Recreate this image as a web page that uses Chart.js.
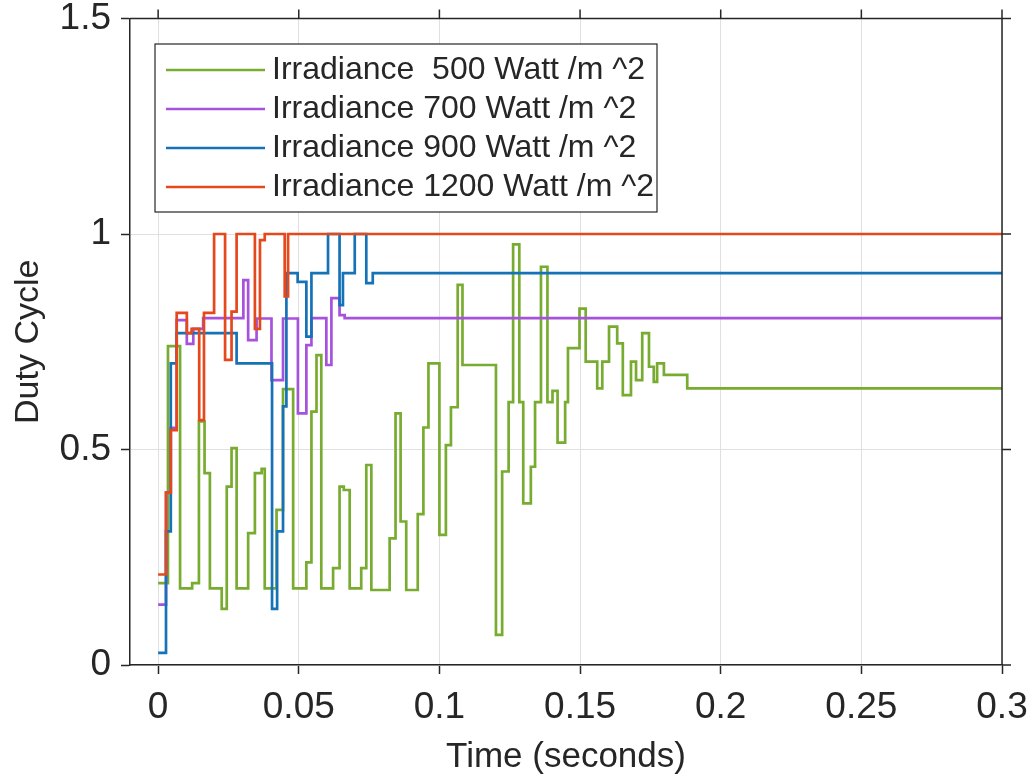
<!DOCTYPE html>
<html>
<head>
<meta charset="utf-8">
<script src="https://cdn.jsdelivr.net/npm/chart.js@4.4.1/dist/chart.umd.min.js"></script>
<style>
  html, body { margin: 0; padding: 0; background: #ffffff; }
  #chartWrap { width: 1032px; height: 778px; position: relative; }
</style>
</head>
<body>
<div id="chartWrap"><canvas id="dutyChart"></canvas></div>
<script>
/* Data */

const xTicks = [0, 0.05, 0.1, 0.15, 0.2, 0.25, 0.3];
const yTicks = [0, 0.5, 1, 1.5];

const seriesLabels = [
  "Irradiance  500 Watt /m ^2",
  "Irradiance 700 Watt /m ^2",
  "Irradiance 900 Watt /m ^2",
  "Irradiance 1200 Watt /m ^2"
];

const t500 = [0, 0.0035, 0.0078, 0.0121, 0.0145, 0.0165, 0.0184, 0.0226, 0.0244, 0.0261,
  0.0279, 0.032, 0.0344, 0.0368, 0.0379, 0.0421, 0.0444, 0.048, 0.0527, 0.0545,
  0.0563, 0.058, 0.0622, 0.0645, 0.066, 0.0681, 0.0722, 0.074, 0.0758, 0.0823,
  0.0844, 0.0862, 0.0882, 0.0923, 0.0943, 0.0961, 0.1, 0.1023, 0.1041, 0.1065,
  0.1082, 0.1201, 0.1223, 0.1246, 0.1262, 0.1284, 0.1298, 0.1325, 0.134, 0.1361,
  0.1384, 0.1402, 0.142, 0.1447, 0.1457, 0.1498, 0.152, 0.1561, 0.1579, 0.1603,
  0.1632, 0.1652, 0.1681, 0.1699, 0.1721, 0.1745, 0.1762, 0.1774, 0.1798, 0.1881, 0.3];
const d500 = [0.19, 0.74, 0.178, 0.19, 0.565, 0.445, 0.178, 0.13, 0.414, 0.503,
  0.178, 0.306, 0.445, 0.455, 0.178, 0.36, 0.64, 0.178, 0.238, 0.588,
  0.719, 0.178, 0.225, 0.414, 0.406, 0.178, 0.225, 0.464, 0.174, 0.294,
  0.584, 0.333, 0.174, 0.35, 0.551, 0.70, 0.302, 0.51, 0.598, 0.882,
  0.696, 0.07, 0.449, 0.61, 0.976, 0.61, 0.375, 0.46, 0.61, 0.924,
  0.61, 0.636, 0.516, 0.61, 0.735, 0.827, 0.704, 0.642, 0.704, 0.785,
  0.746, 0.626, 0.704, 0.661, 0.77, 0.692, 0.657, 0.70, 0.673, 0.642, 0.642];

const t700 = [0, 0.0028, 0.0045, 0.0066, 0.0102, 0.0125, 0.016, 0.0303, 0.032, 0.035,
  0.0403, 0.0444, 0.0497, 0.0527, 0.0545, 0.0598, 0.0616, 0.0645, 0.0663, 0.3];
const d700 = [0.14, 0.40, 0.55, 0.80, 0.745, 0.78, 0.805, 0.893, 0.754, 0.804,
  0.661, 0.804, 0.584, 0.742, 0.805, 0.696, 0.851, 0.812, 0.805, 0.805];

const t900 = [0, 0.0028, 0.0045, 0.0066, 0.0279, 0.0405, 0.0423, 0.0444, 0.0456, 0.0496,
  0.0527, 0.0545, 0.0604, 0.0645, 0.0657, 0.0699, 0.074, 0.0763, 0.3];
const d900 = [0.028, 0.31, 0.70, 0.77, 0.70, 0.13, 0.31, 0.60, 0.909, 0.889,
  0.762, 0.909, 1.0, 0.835, 0.909, 1.0, 0.886, 0.909, 0.909];

const t1200 = [0, 0.0028, 0.0045, 0.0066, 0.0102, 0.0119, 0.0146, 0.0163, 0.0199, 0.0238,
  0.0261, 0.0279, 0.0344, 0.0362, 0.0379, 0.045, 0.0462, 0.3];
const d1200 = [0.21, 0.40, 0.545, 0.817, 0.77, 0.78, 0.568, 0.817, 1.0, 0.708,
  0.82, 1.0, 0.78, 0.986, 1.0, 0.855, 1.0, 1.0];

const seriesColors = ["#77ac30", "#a652dc", "#1572b6", "#e4481c"];

/* Helpers */

const axisColor = "#262626";
const fontFamily = "'Liberation Sans', Arial, sans-serif";

function toPoints(times, values) {
  return times.map((t, i) => ({ x: t, y: values[i] }));
}

const seriesData = [
  toPoints(t500, d500),
  toPoints(t700, d700),
  toPoints(t900, d900),
  toPoints(t1200, d1200)
];

/* Box, outer ticks and legend */

const boxPlugin = {
  id: "boxPlugin",
  afterDraw(chart) {
    const ctx = chart.ctx;
    const area = chart.chartArea;
    const xScale = chart.scales.x;
    const yScale = chart.scales.y;
    const tickLen = 9;

    ctx.save();
    ctx.strokeStyle = axisColor;
    ctx.lineWidth = 1.5;
    ctx.beginPath();
    ctx.moveTo(area.left, area.top);
    ctx.lineTo(area.right, area.top);
    ctx.lineTo(area.right, area.bottom);
    xTicks.forEach(v => {
      const px = xScale.getPixelForValue(v);
      ctx.moveTo(px, area.top);
      ctx.lineTo(px, area.top - tickLen);
    });
    yTicks.forEach(v => {
      const py = yScale.getPixelForValue(v);
      ctx.moveTo(area.right, py);
      ctx.lineTo(area.right + tickLen, py);
    });
    ctx.stroke();

    // legend box
    const boxLeft = 155;
    const boxTop = 44;
    const boxWidth = 502;
    const rowGap = 39;
    const boxHeight = 168;

    ctx.fillStyle = "#ffffff";
    ctx.fillRect(boxLeft, boxTop, boxWidth, boxHeight);
    ctx.lineWidth = 1.2;
    ctx.strokeStyle = axisColor;
    ctx.strokeRect(boxLeft, boxTop, boxWidth, boxHeight);

    ctx.font = "32px " + fontFamily;
    ctx.textBaseline = "middle";
    ctx.textAlign = "left";
    chart.data.datasets.forEach((ds, i) => {
      const rowY = boxTop + 26 + i * rowGap;
      ctx.strokeStyle = ds.borderColor;
      ctx.lineWidth = 2.5;
      ctx.beginPath();
      ctx.moveTo(boxLeft + 11, rowY);
      ctx.lineTo(boxLeft + 110, rowY);
      ctx.stroke();
      ctx.fillStyle = axisColor;
      ctx.fillText(ds.label, boxLeft + 117, rowY);
    });
    ctx.restore();
  }
};

/* Chart */

new Chart(document.querySelector("#dutyChart"), {
  type: "line",
  data: {
    datasets: seriesLabels.map((label, i) => ({
      label: label,
      data: seriesData[i],
      borderColor: seriesColors[i],
      backgroundColor: seriesColors[i],
      borderWidth: 2.7,
      stepped: true,
      pointRadius: 0,
      fill: false,
      order: seriesLabels.length - i
    }))
  },
  options: {
    responsive: true,
    maintainAspectRatio: false,
    animation: false,
    layout: {
      padding: 0
    },
    plugins: {
      legend: { display: false },
      tooltip: { enabled: false }
    },
    scales: {
      x: {
        type: "linear",
        min: -0.01,
        max: 0.3,
        afterFit: scale => {
          scale.height = 113;
          scale.paddingLeft = 0;
          scale.paddingRight = 30;
        },
        afterBuildTicks: scale => { scale.ticks = xTicks.map(v => ({ value: v })); },
        border: { display: true, color: axisColor, width: 1.5 },
        grid: {
          color: "#e0e0e0",
          lineWidth: 1,
          drawTicks: true,
          tickLength: 9,
          tickColor: axisColor,
          tickWidth: 1.5
        },
        ticks: {
          color: axisColor,
          font: { family: fontFamily, size: 37 },
          padding: 12,
          maxRotation: 0,
          autoSkip: false,
          callback: value => String(value)
        },
        title: {
          display: true,
          text: "Time (seconds)",
          color: axisColor,
          font: { family: fontFamily, size: 35, lineHeight: 1 },
          padding: { top: 0, bottom: 3 }
        }
      },
      y: {
        type: "linear",
        min: 0,
        max: 1.5,
        afterFit: scale => {
          scale.width = 130;
          scale.paddingTop = 18.5;
          scale.paddingBottom = 0;
        },
        afterBuildTicks: scale => { scale.ticks = yTicks.map(v => ({ value: v })); },
        border: { display: true, color: axisColor, width: 1.5 },
        grid: {
          color: "#e0e0e0",
          lineWidth: 1,
          drawTicks: true,
          tickLength: 9,
          tickColor: axisColor,
          tickWidth: 1.5
        },
        ticks: {
          color: axisColor,
          font: { family: fontFamily, size: 37 },
          padding: 10,
          autoSkip: false,
          callback: value => String(value)
        },
        title: {
          display: true,
          text: "Duty Cycle",
          color: axisColor,
          font: { family: fontFamily, size: 34, lineHeight: 1 },
          padding: { top: 12, bottom: 0 }
        }
      }
    }
  },
  plugins: [boxPlugin]
});
</script>
</body>
</html>
